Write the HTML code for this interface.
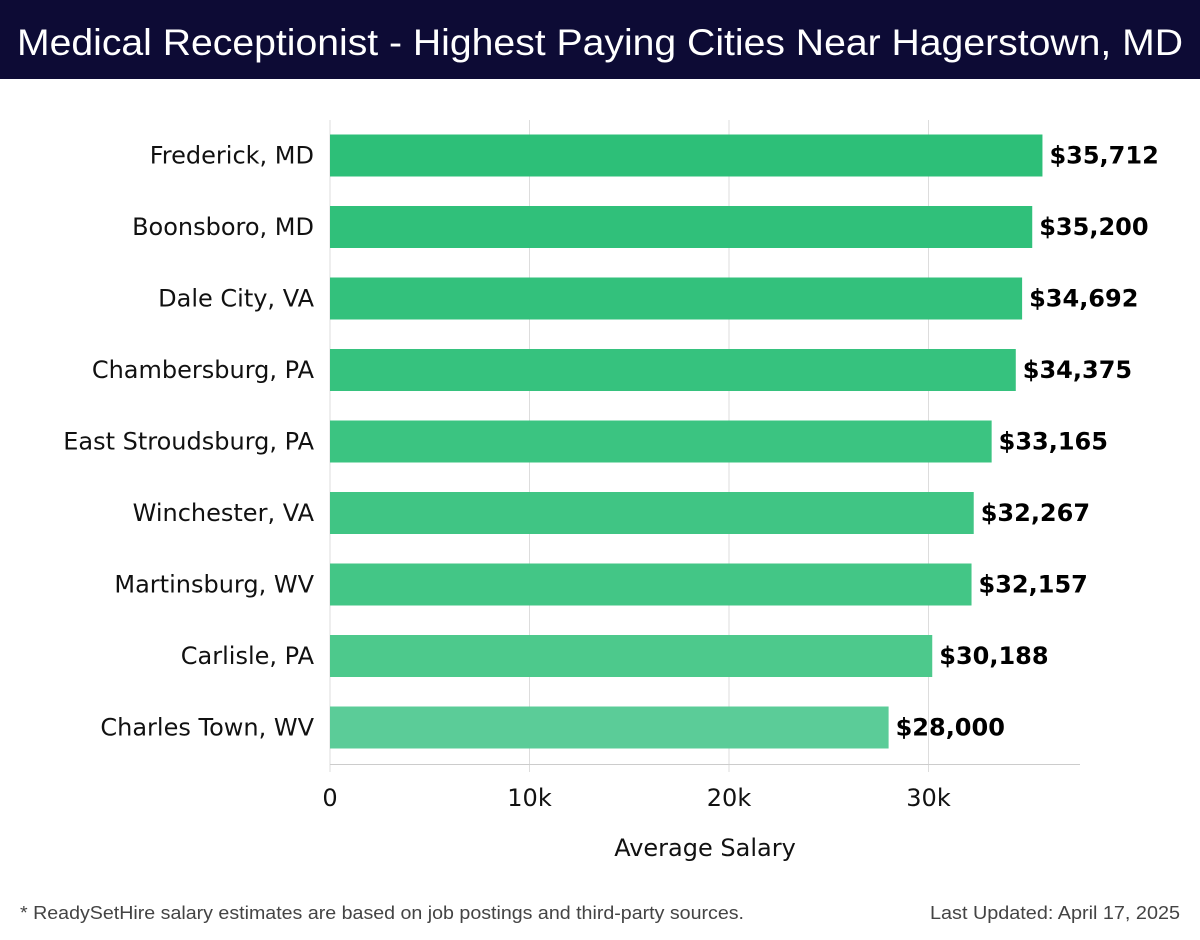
<!DOCTYPE html>
<html><head><meta charset="utf-8"><style>
body{margin:0;background:#fff;font-family:"DejaVu Sans","Liberation Sans",sans-serif}
svg{display:block}
</style></head><body>
<svg id="chart" width="1200" height="940" viewBox="0 0 1200 940">
<rect x="0" y="0" width="1200" height="79" fill="#0d0b35"/>
<text x="17" y="55" fill="#fff" font-size="37" font-family="Liberation Sans, sans-serif" textLength="1166" lengthAdjust="spacingAndGlyphs">Medical Receptionist - Highest Paying Cities Near Hagerstown, MD</text>
<g id="grid"></g>
<g id="bars"></g>
<g id="axis"></g>
<text x="705" y="856" text-anchor="middle" font-size="24" fill="#111">Average Salary</text>
<text x="20" y="919" font-size="18" fill="#444" font-family="Liberation Sans, sans-serif" textLength="724" lengthAdjust="spacingAndGlyphs">* ReadySetHire salary estimates are based on job postings and third-party sources.</text>
<text x="930" y="919" font-size="18" fill="#444" font-family="Liberation Sans, sans-serif" textLength="250" lengthAdjust="spacingAndGlyphs">Last Updated: April 17, 2025</text>
</svg>
<script>
const categories=["Frederick, MD","Boonsboro, MD","Dale City, VA","Chambersburg, PA","East Stroudsburg, PA","Winchester, VA","Martinsburg, WV","Carlisle, PA","Charles Town, WV"];
const values=[35712,35200,34692,34375,33165,32267,32157,30188,28000];
const valueLabels=["$35,712","$35,200","$34,692","$34,375","$33,165","$32,267","$32,157","$30,188","$28,000"];
const ticks=[0,10000,20000,30000];
const tickLabels=["0","10k","20k","30k"];
const colors=["#2dbf78","#30c07a","#33c17c","#36c27e","#3bc481","#40c584","#43c686","#4dc98c","#5bcc98"];
const NS="http://www.w3.org/2000/svg";
const x=v=>330+v*0.01995;
const yc=i=>155.5+i*71.5;
const BH=42;
function mk(tag,attrs,parent){const e=document.createElementNS(NS,tag);for(const k in attrs)e.setAttribute(k,attrs[k]);parent.appendChild(e);return e;}
const grid=document.getElementById('grid'),bars=document.getElementById('bars'),axis=document.getElementById('axis');
ticks.forEach((t,i)=>{
 const g=mk('line',{x1:x(t),x2:x(t),y1:120,y2:772,stroke:'#dddddd','stroke-width':1},grid);
 
 
 const l=mk('text',{x:x(t),y:806,'text-anchor':'middle','font-size':24,fill:'#111'},axis);
 l.textContent=tickLabels[i];
 
 
});
const al=mk('line',{x1:330,x2:1080,y1:764.5,y2:764.5,stroke:'#cccccc','stroke-width':1},axis);


categories.forEach((c,i)=>{
 const r=mk('rect',{x:x(0),y:yc(i)-BH/2,width:x(values[i])-x(0),height:BH,fill:colors[i]},bars);
 
 
 const cl=mk('text',{x:314,y:yc(i)+8,'text-anchor':'end','font-size':24,fill:'#111'},bars);
 cl.textContent=c;
 
 
 const vl=mk('text',{x:x(values[i])+7,y:yc(i)+8,'font-size':24,'font-weight':'bold',fill:'#000'},bars);
 vl.textContent=valueLabels[i];
 
 
});
</script>
</body></html>
